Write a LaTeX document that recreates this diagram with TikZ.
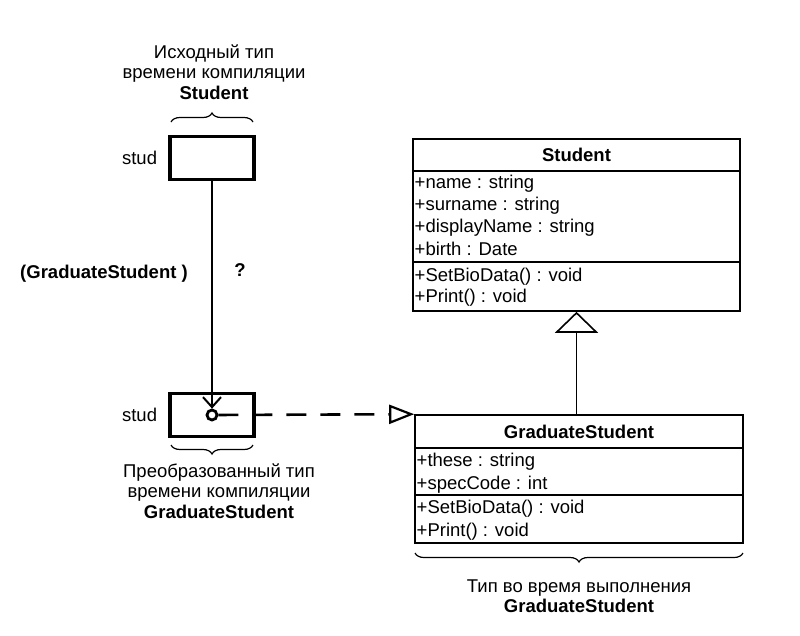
\documentclass[tikz,border=0pt]{standalone}
\usepackage{fontspec}
\setmainfont{Liberation Sans}
\usetikzlibrary{arrows.meta,decorations.pathreplacing,positioning}
\def\fs{\fontsize{18.5}{20.5}\selectfont}
\tikzset{%
  txt/.style={font=\fs,inner sep=1pt},%
  boldtxt/.style={font=\fs\bfseries,inner sep=1pt},%
  member/.style={txt,anchor=west},%
  varbox/.style={draw,line width=3.5pt,minimum width=84pt,minimum height=43pt,inner sep=0pt},%
  classbox/.style={draw,line width=1.6pt,inner sep=0pt},%
  bracedeco/.style={decorate,decoration={brace,amplitude=9pt},line width=1.2pt},%
}
\begin{document}
\begin{tikzpicture}[x=1pt,y=-1pt]%
\useasboundingbox (0,0) rectangle (800,635);%
%
% variable before the cast
\node[varbox] (studsrc) at (212,158) {};%
\node[txt,left=10pt of studsrc] (studsrcname) {stud};%
\draw[bracedeco] (171,122) -- (253,122);%
\node[txt,align=center] (srctype) at (214,72) {Исходный тип\\времени компиляции\\\textbf{Student}};%
%
% variable after the cast
\node[varbox] (studcast) at (212,415) {};%
\node[txt,left=10pt of studcast] (studcastname) {stud};%
\node[circle,draw,line width=2.8pt,minimum size=10pt,inner sep=0pt] (obj) at (212,415) {};%
\draw[bracedeco] (253,445) -- (171,445);%
\node[txt,align=center] (casttype) at (219,491) {Преобразованный тип\\времени компиляции\\\textbf{GraduateStudent}};%
%
\draw[line width=1.5pt,-{Straight Barb[length=10pt,width=18pt,line width=2pt]}] (studsrc) -- (obj);%
\node[boldtxt] (castop) at (104,274) {(GraduateStudent )};%
\node[boldtxt] (castq) at (240,270) {?};%
%
% class Student
\node[classbox,minimum width=327pt,minimum height=172pt] (student) at (576.5,225) {};%
\draw[line width=1.6pt] ([yshift=-33pt]student.north west) -- ([yshift=-33pt]student.north east);%
\draw[line width=1.6pt] ([yshift=-124pt]student.north west) -- ([yshift=-124pt]student.north east);%
\node[boldtxt] (studenthead) at (576.5,155) {Student};%
\node[member] (sname) at (413.5,184) {+name : string};%
\node[member] (ssurname) at (413.5,206) {+surname : string};%
\node[member] (sdisplay) at (413.5,228) {+displayName : string};%
\node[member] (sbirth) at (413.5,249) {+birth : Date};%
\node[member] (sbio) at (413.5,277) {+SetBioData() : void};%
\node[member] (sprint) at (413.5,298) {+Print() : void};%
%
% class GraduateStudent
\node[classbox,minimum width=328pt,minimum height=128pt] (gradclass) at (579,479) {};%
\draw[line width=1.6pt] ([yshift=-34pt]gradclass.north west) -- ([yshift=-34pt]gradclass.north east);%
\draw[line width=1.6pt] ([yshift=-81pt]gradclass.north west) -- ([yshift=-81pt]gradclass.north east);%
\node[boldtxt] (gradhead) at (579,432) {GraduateStudent};%
\node[member] (gthese) at (415.5,462) {+these : string};%
\node[member] (gspec) at (415.5,485) {+specCode : int};%
\node[member] (gbio) at (415.5,509) {+SetBioData() : void};%
\node[member] (gprint) at (415.5,532) {+Print() : void};%
\draw[bracedeco] (743,553) -- (415,553);%
\node[txt,align=center] (runtype) at (579,596) {Тип во время выполнения\\\textbf{GraduateStudent}};%
%
% inheritance and runtime type
\draw[line width=1.6pt,-{Triangle[open,length=21pt,width=43pt]}] (gradclass.north -| student.south) -- (student.south);%
\draw[line width=2.6pt,dash pattern=on 20pt off 14pt,-{Triangle[open,length=25pt,width=19pt,line width=2.2pt]}] (obj) -- (gradclass.north west);%
%
\end{tikzpicture}
\end{document}
